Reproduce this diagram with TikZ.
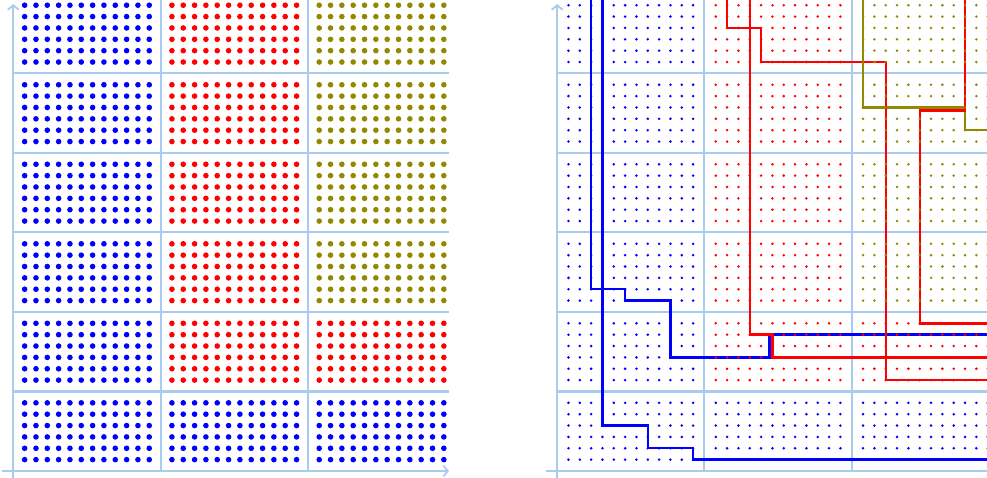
\documentclass[tikz,border=0pt]{standalone}
\usetikzlibrary{arrows.meta}
\definecolor{gridblue}{RGB}{168,204,240}
\definecolor{dotolive}{RGB}{145,138,0}
\definecolor{dotblue}{RGB}{0,0,255}
\definecolor{dotred}{RGB}{255,0,0}
\begin{document}
\begin{tikzpicture}[x=11.33pt,y=11.36pt,
  gridline/.style={gridblue,line width=2.1pt},
  axisline/.style={gridblue,line width=2.1pt,-{Straight Barb[length=4.5pt,width=11pt,line width=1.8pt]}},
  route/.style={line width=2.4pt,line join=miter}]
\useasboundingbox (-13.3pt,-7pt) rectangle (973.7pt,471pt);
\clip (-13.3pt,-7pt) rectangle (973.7pt,471pt);
% grids and axes
\foreach \ox in {0,48}{
  \foreach \gx in {13,26}
    \draw[gridline] (\ox+\gx,0) -- (\ox+\gx,43);
  \foreach \k in {1,...,5}
    \draw[gridline] (\ox,\k*7) -- (\ox+38.45,\k*7);
  \draw[axisline] (\ox,-1) -- (\ox,41.1);
  \draw[axisline] (\ox-1,0) -- (\ox+38.45,0);
}
% routes in right panel
\draw[route,dotolive] (75,43) -- (75,32) -- (84,32) -- (84,30) -- (90,30);
\draw[route,dotblue] (51,43) -- (51,16) -- (54,16) -- (54,15) -- (58,15) -- (58,10) -- (66.75,10) -- (66.75,12) -- (90,12);
\draw[route,dotblue] (52,43) -- (52,4) -- (56,4) -- (56,2) -- (60,2) -- (60,1) -- (90,1);
\draw[route,dotred] (63,43) -- (63,39) -- (66,39) -- (66,36) -- (77,36) -- (77,8) -- (90,8);
\draw[route,dotred] (65,43) -- (65,12) -- (67,12) -- (67,10) -- (90,10);
\draw[route,dotred] (84,43) -- (84,31.75) -- (80,31.75) -- (80,13) -- (90,13);
% dots
\foreach \ox/\rad in {0/2.8pt,48/1.4pt}{
  \foreach \c/\r/\col in {0/0/dotblue,0/1/dotblue,0/2/dotblue,0/3/dotblue,0/4/dotblue,0/5/dotblue,
                         1/0/dotblue,1/1/dotred,1/2/dotred,1/3/dotred,1/4/dotred,1/5/dotred,
                         2/0/dotblue,2/1/dotred,2/2/dotolive,2/3/dotolive,2/4/dotolive,2/5/dotolive}{
    \foreach \i in {1,...,12}
      \foreach \j in {1,...,6}
        \fill[\col] (\ox+\c*13+\i,\r*7+\j) circle[radius=\rad];
  }
}
\end{tikzpicture}
\end{document}
